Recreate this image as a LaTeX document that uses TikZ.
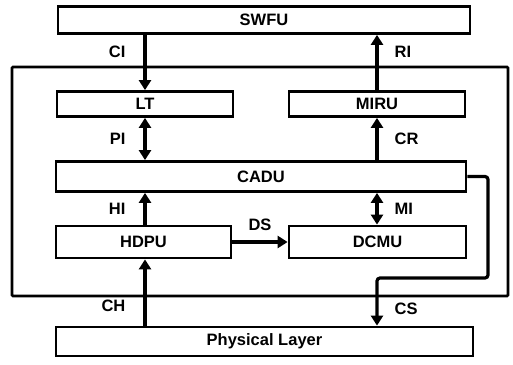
\documentclass[tikz,border=0pt]{standalone}
\usepackage{fontspec}
\setmainfont{Liberation Sans}
\usepackage{tikz}
\usetikzlibrary{
	arrows.meta,
	positioning,
	calc
}

\begin{document}
\begin{tikzpicture}[
			x=1pt, y=-1pt,
			font=\bfseries\fontsize{16.5}{19}\selectfont,
			bloco/.style={draw, line width=2.8pt, minimum height=27pt, inner sep=0pt, align=center},
			quadro/.style={draw, line width=2.8pt, rounded corners=1pt, inner sep=0pt},
			>={Triangle[length=10pt, width=12pt]},
			tr/.style={->, line width=3.2pt},
			trd/.style={<->, line width=3.2pt},
			rot/.style={inner sep=2pt}
		]
		\useasboundingbox (0,0) rectangle (513,364);

		% moldura do sistema
		\node[quadro, minimum width=496pt, minimum height=229pt] (sis) at (260,181.5) {};

		\node[bloco, minimum width=412pt] (swfu) at (264,20) {SWFU};
		\node[bloco, minimum width=176pt, minimum height=25pt] (lt) at (145,104) {LT};
		\node[bloco, minimum width=176pt, minimum height=25pt] (miru) at (377,104) {MIRU};
		\node[bloco, minimum width=410pt, minimum height=30pt] (cadu) at (261,176.5) {CADU};
		\node[bloco, minimum width=175pt, minimum height=32pt] (hdpu) at (143.5,242) {HDPU};
		\node[bloco, minimum width=177pt, minimum height=32pt] (dcmu) at (377.5,242) {DCMU};
		\node[bloco, minimum width=417pt, minimum height=29pt] (fis) at (264.5,341.5) {Physical Layer};

		\draw[tr] (lt.north |- swfu.south) -- node[rot, pos=0.3, left=16pt] {CI} (lt.north);
		\draw[tr] (miru.north) -- node[rot, pos=0.7, right=14pt] {RI} (miru.north |- swfu.south);
		\draw[trd] (lt.south) -- node[rot, left=16pt] {PI} (lt.south |- cadu.north);
		\draw[tr] (miru.south |- cadu.north) -- node[rot, right=14pt] {CR} (miru.south);
		\draw[tr] (lt.south |- hdpu.north) -- node[rot, left=16pt] {HI} (lt.south |- cadu.south);
		\draw[trd] (miru.south |- cadu.south) -- node[rot, right=14pt] {MI} (miru.south |- dcmu.north);
		\draw[tr] (hdpu.east) -- node[rot, above=8pt] {DS} (dcmu.west);
		\draw[tr] (lt.south |- fis.north) -- node[rot, pos=0.3, left=16pt] {CH} (lt.south |- hdpu.south);

		\coordinate (volta) at (488,278);
		\draw[tr, rounded corners=3pt] (cadu.east) -| (volta) -| node[rot, pos=0.82, right=14pt] {CS} (miru.south |- fis.north);
	\end{tikzpicture}
\end{document}
